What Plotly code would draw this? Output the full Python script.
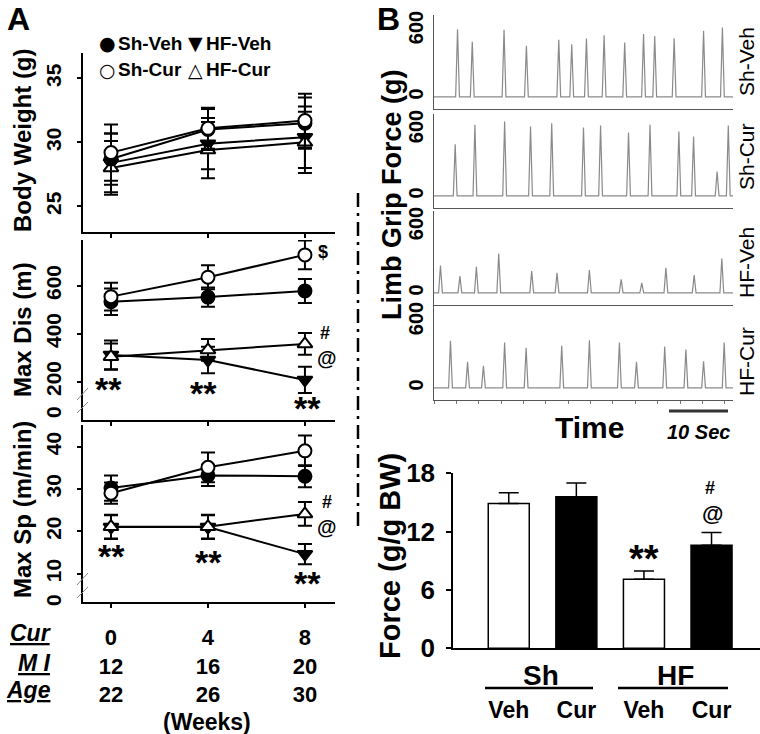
import plotly.graph_objects as go

W, H = 760, 734
def fx(p): return p / W
def fy(p): return 1 - p / H

# ---------------- data ----------------
weeks = [0, 4, 8]
cur_weeks = ["0", "4", "8"]
mi_weeks = ["12", "16", "20"]
age_weeks = ["22", "26", "30"]
row_labels = ["Cur", "M I", "Age"]

groups = ["Sh-Veh", "Sh-Cur", "HF-Veh", "HF-Cur"]

bw_mean = {"Sh-Veh": [28.7, 31.0, 31.5], "Sh-Cur": [29.2, 31.1, 31.7],
           "HF-Veh": [28.4, 29.9, 30.4], "HF-Cur": [28.0, 29.4, 30.0]}
bw_err = {"Sh-Veh": [2.0, 1.6, 2.0], "Sh-Cur": [2.2, 1.6, 2.1],
          "HF-Veh": [2.3, 2.0, 2.4], "HF-Cur": [2.1, 2.2, 2.4]}

dis_mean = {"Sh-Veh": [533, 552, 578], "Sh-Cur": [554, 635, 728],
            "HF-Veh": [311, 290, 207], "HF-Cur": [304, 332, 357]}
dis_err = {"Sh-Veh": [55, 40, 50], "Sh-Cur": [58, 50, 60],
           "HF-Veh": [60, 55, 55], "HF-Cur": [55, 45, 45]}

sp_mean = {"Sh-Veh": [30.2, 33.2, 33.0], "Sh-Cur": [29.0, 35.1, 39.0],
           "HF-Veh": [21.0, 21.0, 14.6], "HF-Cur": [21.1, 21.1, 24.1]}
sp_err = {"Sh-Veh": [3.0, 2.5, 2.6], "Sh-Cur": [2.5, 3.5, 3.6],
          "HF-Veh": [2.8, 2.8, 2.4], "HF-Cur": [2.8, 2.8, 2.8]}

grip_peak_t = {
    "Sh-Veh": [4.0, 6.5, 11.9, 15.7, 21.2, 23.4, 25.9, 28.9, 32.4, 35.6, 37.5, 40.8, 45.8, 49.0],
    "Sh-Cur": [3.6, 6.95, 12.0, 16.4, 20.0, 25.4, 28.3, 33.05, 36.7, 41.6, 44.1, 48.1, 50.0],
    "HF-Veh": [1.1, 4.4, 7.2, 11.0, 16.6, 20.9, 26.4, 31.8, 35.3, 39.4, 44.2, 48.9],
    "HF-Cur": [2.8, 5.7, 8.4, 12.0, 15.65, 21.7, 26.4, 31.5, 34.4, 39.2, 42.8, 45.8, 49.3],
}
grip_peak_h = {
    "Sh-Veh": [612, 497, 606, 461, 515, 476, 527, 557, 491, 567, 551, 530, 597, 627],
    "Sh-Cur": [467, 642, 672, 627, 657, 618, 636, 573, 642, 582, 536, 220, 636],
    "HF-Veh": [247, 151, 235, 356, 196, 181, 205, 121, 90, 226, 160, 310],
    "HF-Cur": [425, 235, 199, 410, 362, 380, 431, 410, 235, 374, 347, 241, 410],
}
grip_duration = 50.8

bar_labels = ["Veh", "Cur", "Veh", "Cur"]
bar_groups = ["Sh", "HF"]
force_mean = [14.9, 15.6, 7.1, 10.6]
force_err = [1.1, 1.4, 0.85, 1.3]

# ---------------- styles ----------------
FONT = "Liberation Sans"
marker_style = {"Sh-Veh": ("circle", "black"), "Sh-Cur": ("circle", "white"),
                "HF-Veh": ("triangle-down", "black"), "HF-Cur": ("triangle-up", "white")}

fig = go.Figure()

def add_group(xa, ya, means, errs):
    for g in ["HF-Veh", "HF-Cur", "Sh-Veh", "Sh-Cur"]:
        sym, fill = marker_style[g]
        fig.add_trace(go.Scatter(
            x=weeks, y=means[g], mode="lines+markers", xaxis=xa, yaxis=ya,
            line=dict(color="black", width=2),
            marker=dict(symbol=sym, size=13, color=fill, line=dict(color="black", width=2)),
            error_y=dict(type="data", array=errs[g], color="black", thickness=2, width=7),
            showlegend=False, cliponaxis=False))

add_group("x", "y", bw_mean, bw_err)
add_group("x2", "y2", dis_mean, dis_err)
add_group("x3", "y3", sp_mean, sp_err)

# grip force traces
for i, g in enumerate(groups):
    xs, ys = [0.0], [0.0]
    for t, h in zip(grip_peak_t[g], grip_peak_h[g]):
        xs += [t - 0.32, t, t + 0.32]
        ys += [0, h, 0]
    xs.append(grip_duration); ys.append(0)
    fig.add_trace(go.Scatter(x=xs, y=ys, mode="lines", xaxis=f"x{4+i}", yaxis=f"y{4+i}",
                             line=dict(color="#8a8a8a", width=1.2), showlegend=False))

# bar chart
fig.add_trace(go.Bar(
    x=list(range(len(force_mean))), y=force_mean, xaxis="x8", yaxis="y8", width=0.607,
    marker=dict(color=["white", "black", "white", "black"], line=dict(color="black", width=1.5)),
    error_y=dict(type="data", symmetric=False, array=force_err, arrayminus=[0]*len(force_err),
                 color="black", thickness=1.5, width=10),
    showlegend=False))

tick_font = dict(family=FONT, size=21, color="black", weight="bold")

def ax_x(domain, rng, **kw):
    d = dict(domain=domain, range=rng, showline=True, linecolor="black", linewidth=1.5,
             ticks="outside", ticklen=4, tickwidth=1.5, tickcolor="black", automargin=False,
             showgrid=False, zeroline=False, showticklabels=False, fixedrange=True)
    d.update(kw)
    return d

def ax_y(domain, rng, tickvals, **kw):
    d = dict(domain=domain, range=rng, showline=True, linecolor="black", linewidth=1.5,
             ticks="outside", ticklen=4, tickwidth=1.5, tickcolor="black", automargin=False,
             tickvals=tickvals, tickangle=-90, tickfont=tick_font, ticklabelstandoff=8,
             showgrid=False, zeroline=False, fixedrange=True)
    d.update(kw)
    return d

xA = [fx(82.7), fx(335)]
xrA = [-1.167, 9.24]
layout = dict(
    template="none",
    width=W, height=H, margin=dict(l=0, r=0, t=0, b=0, autoexpand=False),
    paper_bgcolor="white", plot_bgcolor="rgba(0,0,0,0)",
    font=dict(family=FONT, color="black"),
    showlegend=False,
    xaxis=ax_x(xA, xrA, anchor="y", tickvals=weeks),
    yaxis=ax_y([fy(232), fy(53)], [23.0, 36.98], [25, 30, 35], anchor="x"),
    xaxis2=ax_x(xA, xrA, anchor="y2", tickvals=weeks),
    yaxis2=ax_y([fy(420), fy(240)], [40, 790], [200, 400, 600], anchor="x2"),
    xaxis3=ax_x(xA, xrA, anchor="y3", tickvals=weeks, showticklabels=True,
                ticktext=[f"{a}<br>{b}<br>{c}" for a, b, c in zip(cur_weeks, mi_weeks, age_weeks)],
                tickfont=dict(family=FONT, size=22, color="black", weight="bold"),
                ticklabelstandoff=11),
    yaxis3=ax_y([fy(602), fy(425)], [3.3, 45.1], [10, 20, 30, 40], anchor="x3"),
)

bottoms = [109, 208, 305, 400]
for i, b in enumerate(bottoms):
    n = 4 + i
    xd = dict(domain=[fx(434), fx(733)], range=[0, grip_duration], anchor=f"y{n}",
              showline=True, linecolor="#555", linewidth=1, showgrid=False, zeroline=False,
              showticklabels=False, ticks="", fixedrange=True, automargin=False)
    if i == 3:
        xd.update(ticks="outside", ticklen=3, tickcolor="#777", tickmode="linear", tick0=0, dtick=3.8)
    layout[f"xaxis{n}"] = xd
    layout[f"yaxis{n}"] = dict(domain=[fy(b), fy(b - 94)], range=[-110, 740], anchor=f"x{n}",
                               showline=True, linecolor="#555", linewidth=1, ticks="",
                               tickvals=[0, 600], tickangle=-90, automargin=False,
                               tickfont=dict(family=FONT, size=20, color="black", weight="bold"),
                               ticklabelstandoff=2, showgrid=False, zeroline=False, fixedrange=True)

layout["xaxis8"] = dict(domain=[fx(453), 1.0], range=[-0.825, 3.717], anchor="y8",
                        showline=True, linecolor="black", linewidth=1.5, ticks="", automargin=False,
                        tickvals=list(range(len(bar_labels))), ticktext=bar_labels,
                        tickfont=dict(family=FONT, size=23, color="black", weight="bold"),
                        ticklabelstandoff=40, showgrid=False, zeroline=False, fixedrange=True)
layout["yaxis8"] = dict(domain=[fy(648.3), fy(473.3)], range=[0, 18], anchor="x8",
                        showline=True, linecolor="black", linewidth=1.5, ticks="outside",
                        ticklen=5, tickwidth=1.5, tickcolor="black", tickvals=[0, 6, 12, 18],
                        automargin=False,
                        tickfont=dict(family=FONT, size=26, color="black", weight="bold"),
                        ticklabelstandoff=6, showgrid=False, zeroline=False, fixedrange=True)

anns = []
def ann(text, x, y, size, bold=True, italic=False, angle=0, xanchor="center", yanchor="middle",
        family=FONT, color="black"):
    anns.append(dict(text=text, x=fx(x), y=fy(y), xref="paper", yref="paper", showarrow=False,
                     xanchor=xanchor, yanchor=yanchor, textangle=angle, borderpad=0,
                     font=dict(family=family, size=size, color=color,
                               weight="bold" if bold else "normal",
                               style="italic" if italic else "normal")))

ann("A", 18, 0, 32, yanchor="top"); ann("B", 388, 0, 32, yanchor="top")
# legend
ann("●", 107, 43, 19, family="DejaVu Sans"); ann("Sh-Veh", 117, 43, 19, xanchor="left")
ann("▼", 195, 43, 19, family="DejaVu Sans"); ann("HF-Veh", 205, 43, 19, xanchor="left")
ann("○", 107, 70, 19, family="DejaVu Sans"); ann("Sh-Cur", 117, 70, 19, xanchor="left")
ann("△", 195, 70, 19, family="DejaVu Sans"); ann("HF-Cur", 205, 70, 19, xanchor="left")
# axis titles A
ann("Body Weight (g)", 22, 140, 24, angle=-90)
ann("Max Dis (m)", 22, 330, 24, angle=-90)
ann("Max Sp (m/min)", 22, 510, 24, angle=-90)
ann("0", 53, 412, 21, angle=-90)
ann("0", 53, 600, 21, angle=-90)
# significance marks A
for (x, y) in [(108, 389), (203, 393), (307, 408), (112, 556), (208, 562), (307, 583)]:
    ann("**", x, y, 34)
ann("&#36;", 323, 252, 18); ann("#", 325, 333, 18); ann("@", 327, 358, 20)
ann("#", 327, 502, 18); ann("@", 327, 527, 20)
# table rows
for lab, y in zip(row_labels, [633, 663, 690]):
    ann(f"<i><u>{lab}</u></i>", 52, y, 23, xanchor="right")
ann("(Weeks)", 207, 722, 23)
# panel B
ann("Limb Grip Force (g)", 392, 195, 27, angle=-90)
for g, y in zip(groups, [62, 157, 263, 362]):
    ann(g, 746, y, 21, bold=False, angle=-90)
ann("Time", 589, 427, 30)
ann("<i>10 Sec</i>", 698, 432, 20)
ann("Force (g/g BW)", 390, 556, 29, angle=-90)
ann(bar_groups[0], 541, 675, 28); ann(bar_groups[1], 675, 675, 28)
ann("**", 644, 559, 38)
ann("#", 710, 488, 18); ann("@", 712, 513, 22)
layout["annotations"] = anns

def line(x0, y0, x1, y1, color="black", width=1, dash="solid"):
    return dict(type="line", xref="paper", yref="paper", x0=fx(x0), y0=fy(y0), x1=fx(x1), y1=fy(y1),
                line=dict(color=color, width=width, dash=dash))

layout["shapes"] = [
    line(358, 193, 358, 527, width=2.5, dash="14px,6px,3px,6px"),
    line(77, 400, 88, 388, color="#888"), line(77, 413, 88, 402, color="#888"),
    line(77, 585, 88, 573, color="#888"), line(77, 598, 88, 587, color="#888"),
    line(669, 411, 728, 411, color="#333", width=3),
    line(485, 688, 593, 688, width=2.5), line(618, 688, 728, 688, width=2.5),
]

fig.update_layout(**layout)
fig.write_html("out.html", config={"displayModeBar": False},
               post_script="document.body.style.margin='0px';")
